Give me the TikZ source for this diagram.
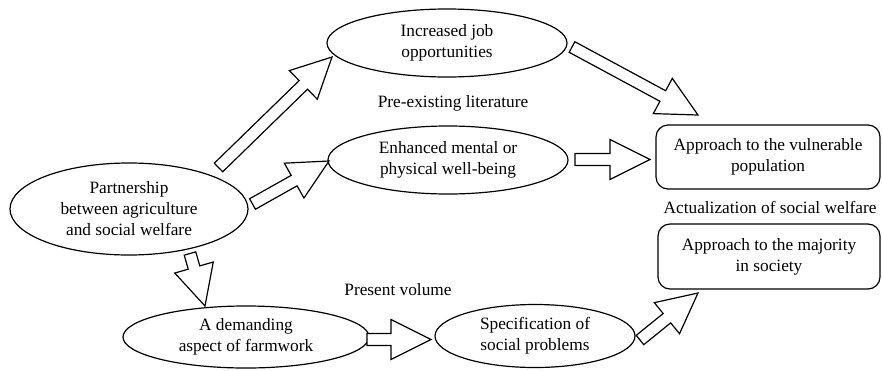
\documentclass[tikz,border=0pt]{standalone}
\usepackage{fontspec}
\setmainfont{Liberation Serif}
\usetikzlibrary{shapes.geometric,calc}

\newcommand\lbl{\fontsize{17.3}{21}\selectfont}

\tikzset{
  oval/.style={draw, line width=1.2pt, ellipse, inner sep=0pt, align=center, font=\lbl},
  panel/.style={draw, line width=1.2pt, rounded corners=12pt, inner sep=0pt, align=center, font=\lbl},
  caption/.style={align=center, font=\lbl},
  fatarrow/.style={draw, line width=1.2pt, line join=miter, fill=white},
}

% open block arrow from #1 (tail) to #2 (tip)
\newcommand\blockarrow[2]{%
  \coordinate (ba-base) at ($(#2)!40pt!(#1)$);
  \draw[fatarrow]
    ($(#1)!6pt!90:(#2)$) -- ($(ba-base)!6pt!90:(#2)$) -- ($(ba-base)!20pt!90:(#2)$)
    -- (#2)
    -- ($(ba-base)!20pt!-90:(#2)$) -- ($(ba-base)!6pt!-90:(#2)$) -- ($(#1)!6pt!-90:(#2)$)
    -- cycle;
}

\begin{document}
\begin{tikzpicture}[x=1pt, y=-1pt]
  \useasboundingbox (0,0) rectangle (882,370);

  % ovals
  \node[oval, minimum width=238pt, minimum height=92pt] (part) at (129,209)
    {Partnership\\between agriculture\\and social welfare};
  \node[oval, minimum width=240pt, minimum height=68pt] (job) at (447,43)
    {Increased job\\opportunities};
  \node[oval, minimum width=240pt, minimum height=68pt] (ment) at (448,160)
    {Enhanced mental or\\physical well-being};
  \node[oval, minimum width=246pt, minimum height=62pt] (dem) at (246,337)
    {A demanding\\aspect of farmwork};
  \node[oval, minimum width=200pt, minimum height=63pt] (spec) at (535,336)
    {Specification of\\social problems};

  % outcome panels
  \node[panel, minimum width=224pt, minimum height=64pt] (vul) at (768,157)
    {Approach to the vulnerable\\population};
  \node[panel, minimum width=222pt, minimum height=65pt] (maj) at (769,256.5)
    {Approach to the majority\\in society};

  % captions
  \node[caption] (lit) at (453,103) {Pre-existing literature};
  \node[caption] (act) at (770,207) {Actualization of social welfare};
  \node[caption] (pres) at (398,290) {Present volume};

  % arrow end points
  \coordinate (a1t) at (218.5,167.5); \coordinate (a1h) at (332,57);
  \coordinate (a2t) at (252.5,204);   \coordinate (a2h) at (329,161);
  \coordinate (a3t) at (190,253.5);   \coordinate (a3h) at (205,306);
  \coordinate (a4t) at (572,47);      \coordinate (a4h) at (698,115);
  \coordinate (a5t) at (575,159.5);   \coordinate (a5h) at (650,159.5);
  \coordinate (a6t) at (367,339.5);   \coordinate (a6h) at (431,339.5);
  \coordinate (a7t) at (640,340);     \coordinate (a7h) at (698,293);

  \blockarrow{a1t}{a1h}
  \blockarrow{a2t}{a2h}
  \blockarrow{a3t}{a3h}
  \blockarrow{a4t}{a4h}
  \blockarrow{a5t}{a5h}
  \blockarrow{a6t}{a6h}
  \blockarrow{a7t}{a7h}
\end{tikzpicture}
\end{document}
